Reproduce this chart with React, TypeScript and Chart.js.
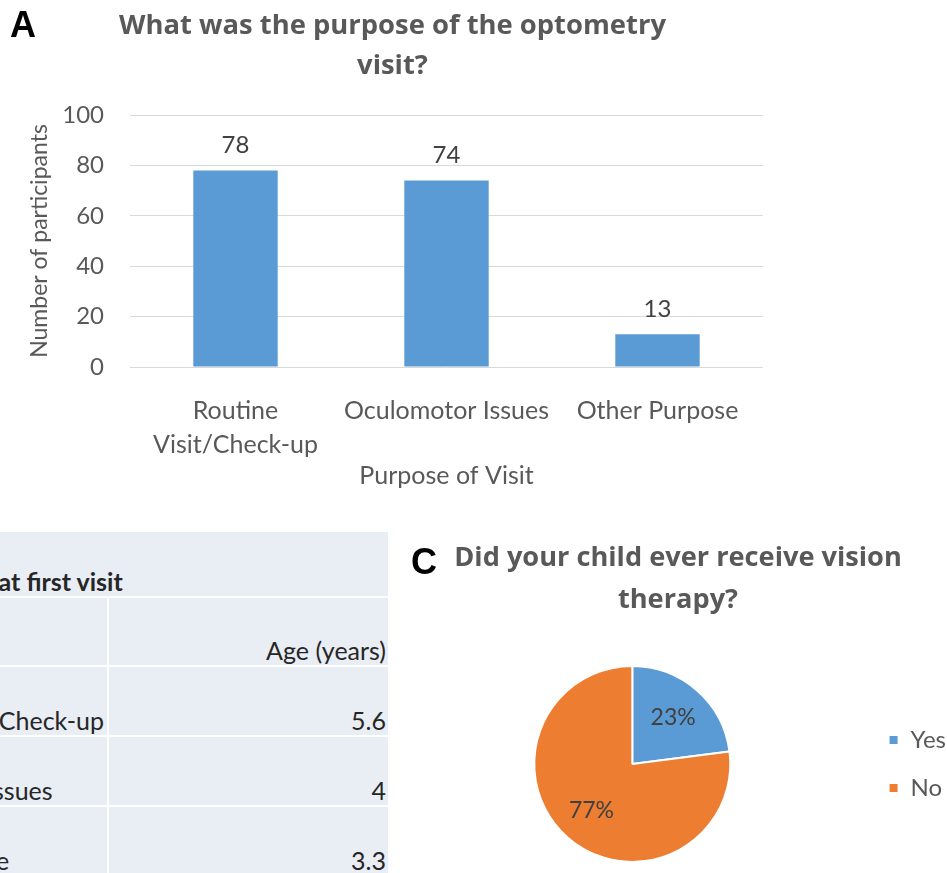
import React, { useEffect, useRef } from "react";
import { Chart, registerables } from "chart.js";

Chart.register(...registerables);

// ---- Data ----
const barCategories: (string | string[])[] = [["Routine", "Visit/Check-up"], "Oculomotor Issues", "Other Purpose"];
const barValues = [78, 74, 13];
const yMin = 0;
const yMax = 100;
const yStep = 20;

const pieLabels = ["Yes", "No"];
const pieValues = [23, 77];

const tableHeader = "Mean age at first visit";
const tableColumnTitle = "Age (years)";
const tableRows = ["Routine Visit/Check-up", "Oculomotor Issues", "Other Purpose"];
const tableAges = ["5.6", "4", "3.3"];

const FONT = "Lato";
const TITLE_FONT = "Open Sans";
const GRAY = "#595959";
const DARK = "#404040";
const BLUE = "#5B9BD5";
const ORANGE = "#ED7D31";

const valueLabelPlugin = {
  id: "valueLabels",
  afterDatasetsDraw(chart: any) {
    const { ctx } = chart;
    const meta = chart.getDatasetMeta(0);
    ctx.save();
    ctx.font = `24px ${FONT}`;
    ctx.fillStyle = DARK;
    ctx.textAlign = "center";
    ctx.textBaseline = "middle";
    meta.data.forEach((bar: any, i: number) => {
      ctx.fillText(String(chart.data.datasets[0].data[i]), bar.x, bar.y - 25);
    });
    ctx.restore();
  },
};

const pieLabelPlugin = {
  id: "pieLabels",
  afterDatasetsDraw(chart: any) {
    const { ctx } = chart;
    const meta = chart.getDatasetMeta(0);
    const data: number[] = chart.data.datasets[0].data;
    const total = data.reduce((a, b) => a + b, 0);
    ctx.save();
    ctx.font = `23px ${FONT}`;
    ctx.fillStyle = DARK;
    ctx.textAlign = "center";
    ctx.textBaseline = "middle";
    meta.data.forEach((arc: any, i: number) => {
      const p = arc.getProps(["x", "y", "startAngle", "endAngle", "outerRadius"]);
      const mid = (p.startAngle + p.endAngle) / 2;
      const r = p.outerRadius * 0.63;
      const pct = Math.round((data[i] / total) * 100);
      ctx.fillText(`${pct}%`, p.x + Math.cos(mid) * r, p.y + Math.sin(mid) * r);
    });
    ctx.restore();
  },
};

function BarChart() {
  const ref = useRef<HTMLCanvasElement>(null);
  useEffect(() => {
    if (!ref.current) return;
    const chart = new Chart(ref.current, {
      type: "bar",
      data: {
        labels: barCategories as any,
        datasets: [
          {
            data: barValues,
            backgroundColor: BLUE,
            categoryPercentage: 1,
            barPercentage: 0.4,
          },
        ],
      },
      options: {
        animation: false,
        responsive: false,
        devicePixelRatio: 1,
        layout: { padding: { left: 22, right: 22, top: 0, bottom: 0 } },
        plugins: {
          legend: { display: false },
          tooltip: { enabled: false },
          title: {
            display: true,
            text: ["What was the purpose of the optometry", "visit?"],
            color: GRAY,
            font: { family: TITLE_FONT, size: 27.4, weight: "bold", lineHeight: 1.46 },
            padding: { top: 6, bottom: 29 },
          },
        },
        scales: {
          x: {
            grid: { display: false },
            border: { display: false },
            ticks: {
              color: GRAY,
              font: { family: FONT, size: 25, lineHeight: 1.36 },
              padding: 19,
              maxRotation: 0,
              autoSkip: false,
            },
            title: {
              display: true,
              text: "Purpose of Visit",
              color: GRAY,
              font: { family: FONT, size: 25, lineHeight: 1.2 },
              padding: { top: 0, bottom: 9 },
            },
            afterFit: (s: any) => {
              s.height = 133;
            },
          },
          y: {
            min: yMin,
            max: yMax,
            ticks: {
              stepSize: yStep,
              color: GRAY,
              font: { family: FONT, size: 24 },
              padding: 26,
            },
            grid: { color: "#d9d9d9", drawTicks: false, lineWidth: 1 },
            border: { display: false },
            title: {
              display: true,
              text: "Number of participants",
              color: GRAY,
              font: { family: FONT, size: 23, lineHeight: 1.2 },
              padding: { top: 4, bottom: 0 },
            },
            afterFit: (s: any) => {
              s.width = 108;
            },
          },
        },
      } as any,
      plugins: [valueLabelPlugin],
    });
    return () => chart.destroy();
  }, []);
  return (
    <canvas
      ref={ref}
      width={785}
      height={500}
      style={{ position: "absolute", left: 0, top: 0, width: 785, height: 500, display: "block" }}
    />
  );
}

function PieChart() {
  const ref = useRef<HTMLCanvasElement>(null);
  useEffect(() => {
    if (!ref.current) return;
    const chart = new Chart(ref.current, {
      type: "pie",
      data: {
        labels: pieLabels,
        datasets: [
          {
            data: pieValues,
            backgroundColor: [BLUE, ORANGE],
            borderColor: "#ffffff",
            borderWidth: 2,
            radius: 98,
          } as any,
        ],
      },
      options: {
        animation: false,
        responsive: false,
        devicePixelRatio: 1,
        layout: { padding: 0 },
        plugins: {
          tooltip: { enabled: false },
          title: {
            display: true,
            text: ["Did your child ever receive vision", "therapy?"],
            color: GRAY,
            font: { family: TITLE_FONT, size: 27.2, weight: "bold", lineHeight: 1.54 },
            padding: { top: 17, bottom: 34 },
          },
          legend: {
            position: "right",
            fullSize: false,
            labels: {
              boxWidth: 10,
              boxHeight: 10,
              padding: 24,
              color: GRAY,
              font: { family: FONT, size: 24 },
            },
          },
        },
      } as any,
      plugins: [pieLabelPlugin],
    });
    return () => chart.destroy();
  }, []);
  return (
    <canvas
      ref={ref}
      width={556}
      height={353}
      style={{ position: "absolute", left: 400, top: 520, width: 556, height: 353, display: "block" }}
    />
  );
}

function AgeTable() {
  const cell: React.CSSProperties = {
    background: "#E9EDF4",
    verticalAlign: "bottom",
    whiteSpace: "nowrap",
    padding: "0 2px 0 16px",
    lineHeight: "30px",
  };
  const rowHeights = [64, 67, 68, 68, 68];
  return (
    <table
      style={{
        position: "absolute",
        left: -170,
        top: 530,
        borderCollapse: "separate",
        borderSpacing: 2,
        background: "#ffffff",
        fontFamily: FONT,
        fontSize: 25,
        color: "#262626",
        tableLayout: "fixed",
      }}
    >
      <colgroup>
        <col style={{ width: 275 }} />
        <col style={{ width: 279 }} />
      </colgroup>
      <tbody>
        <tr style={{ height: rowHeights[0] }}>
          <td colSpan={2} style={{ ...cell, fontWeight: "bold", paddingLeft: 52 }}>
            {tableHeader}
          </td>
        </tr>
        <tr style={{ height: rowHeights[1] }}>
          <td style={cell}></td>
          <td style={{ ...cell, textAlign: "right" }}>{tableColumnTitle}</td>
        </tr>
        {tableRows.map((r, i) => (
          <tr key={r} style={{ height: rowHeights[i + 2] }}>
            <td style={cell}>{r}</td>
            <td style={{ ...cell, textAlign: "right" }}>{tableAges[i]}</td>
          </tr>
        ))}
      </tbody>
    </table>
  );
}

export default function App() {
  const panelLetter: React.CSSProperties = {
    position: "absolute",
    fontFamily: "Liberation Sans, Arial, sans-serif",
    fontWeight: "bold",
    fontSize: 36,
    lineHeight: "36px",
    color: "#000",
  };
  return (
    <div
      style={{
        position: "fixed",
        left: 0,
        top: 0,
        width: 947,
        height: 873,
        overflow: "hidden",
        background: "#ffffff",
      }}
    >
      <AgeTable />
      <BarChart />
      <PieChart />
      <div style={{ ...panelLetter, left: 10, top: 7 }}>A</div>
      <div style={{ ...panelLetter, left: 411, top: 544 }}>C</div>
    </div>
  );
}
